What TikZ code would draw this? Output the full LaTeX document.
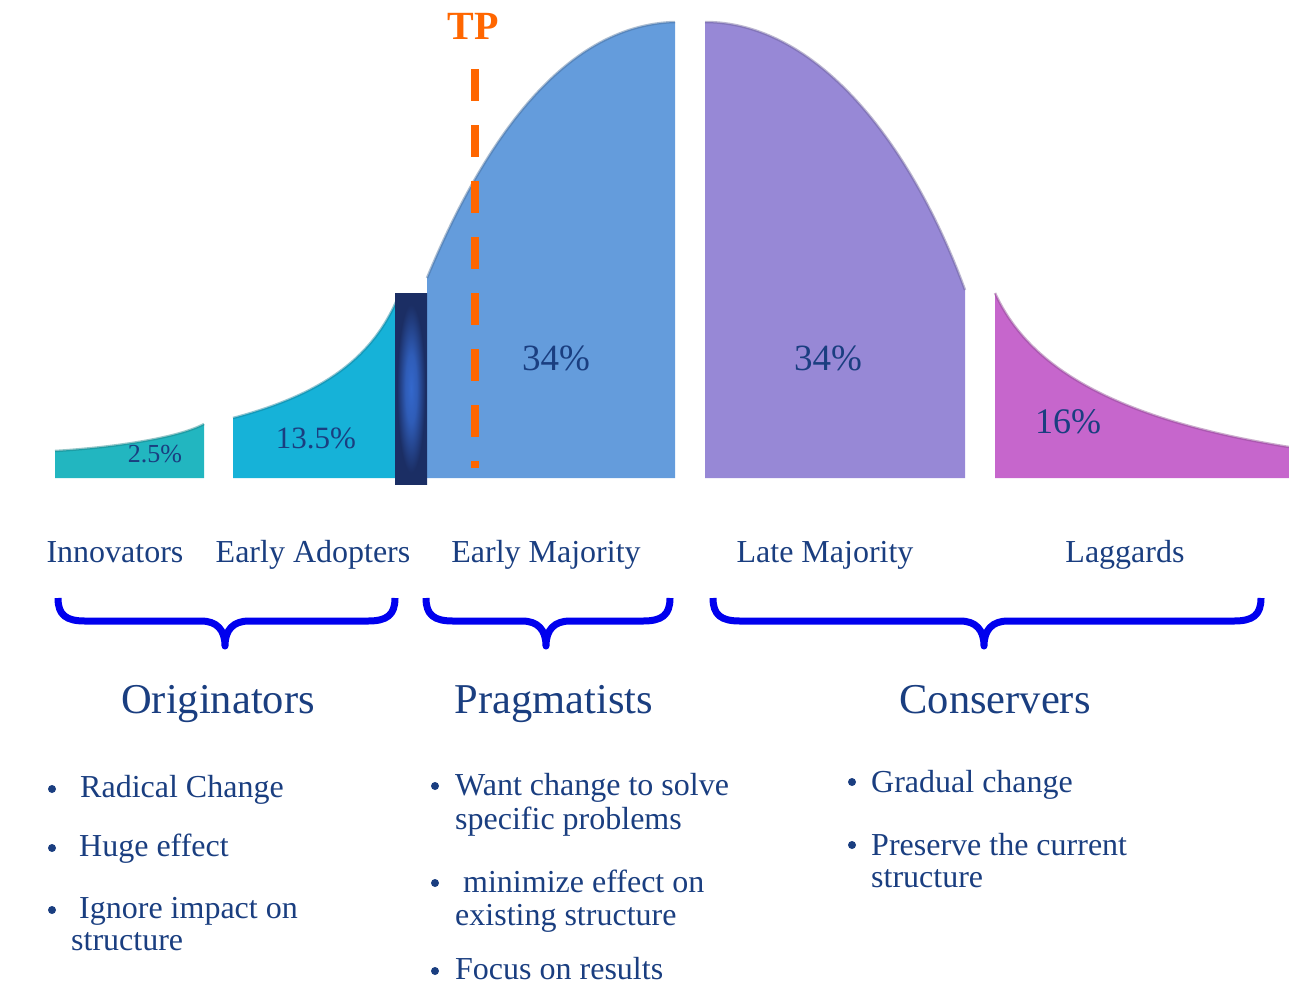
\documentclass[tikz,border=0pt]{standalone}
\usepackage{fontspec}
\setmainfont{Liberation Serif}
\usepackage{tikz}
\definecolor{innocol}{RGB}{34,182,192}
\definecolor{adoptcol}{RGB}{22,178,216}
\definecolor{earlycol}{RGB}{100,156,220}
\definecolor{latecol}{RGB}{151,136,214}
\definecolor{lagcol}{RGB}{198,102,204}
\definecolor{bardark}{RGB}{27,46,100}
\definecolor{barlight}{RGB}{52,104,204}
\definecolor{navy}{RGB}{26,62,128}
\definecolor{tporange}{RGB}{255,102,0}
\definecolor{bracecol}{RGB}{0,0,238}
\pgfdeclareradialshading{barglow}{\pgfpoint{0bp}{0bp}}{color(0bp)=(barlight); color(9bp)=(barlight!80!bardark); color(22bp)=(bardark); color(50bp)=(bardark)}

\begin{document}
\begin{tikzpicture}[x=1pt,y=-1pt]
\tikzstyle{every node}+=[inner sep=0pt, text=navy]
\tikzstyle{rim}=[line width=2.5pt, opacity=0.45]
\tikzstyle{curly}=[bracecol, line width=7pt, line join=round]
\tikzstyle{stagename}=[anchor=base, font=\fontsize{32}{34}\selectfont]
\tikzstyle{groupname}=[anchor=base, font=\fontsize{42.5}{44}\selectfont]
\tikzstyle{bulletline}=[anchor=base west, font=\fontsize{32}{34}\selectfont]
\useasboundingbox (0,0) rectangle (1289,986);

% bell curve pieces
\fill [innocol] (55,478) -- (55,451) .. controls (120,447) and (180,437) .. (204,424) -- (204,478) -- cycle;
\draw [innocol!70!black, rim] (55,451) .. controls (120,447) and (180,437) .. (204,424);
\fill [adoptcol] (233,478) -- (233,418) .. controls (320,395) and (370,360) .. (396,302) -- (396,478) -- cycle;
\draw [adoptcol!70!black, rim] (233,418) .. controls (320,395) and (370,360) .. (396,302);
\fill [earlycol] (427,478) -- (427,278) .. controls (480,150) and (560,25) .. (675,22) -- (675,478) -- cycle;
\draw [earlycol!70!black, rim] (427,278) .. controls (480,150) and (560,25) .. (675,22);
\fill [latecol] (705,478) -- (705,22) .. controls (815,22) and (910,140) .. (965,290) -- (965,478) -- cycle;
\draw [latecol!70!black, rim] (705,22) .. controls (815,22) and (910,140) .. (965,290);
\fill [lagcol] (995,478) -- (995,293) .. controls (1030,370) and (1120,420) .. (1289,447) -- (1289,478) -- cycle;
\draw [lagcol!70!black, rim] (995,293) .. controls (1030,370) and (1120,420) .. (1289,447);

% chasm bar
\shade [shading=barglow] (395,293) rectangle (427,484);

% tipping point
\coordinate (tptop) at (475,69);
\coordinate (tpbot) at (475,468);
\draw [tporange, line width=8pt, dash pattern=on 32pt off 24pt] (tptop) -- (tpbot);
\node [anchor=base, text=tporange, font=\fontsize{40}{42}\selectfont\bfseries] (tp) at (473,39) {TP};

% shares
\node [anchor=base, font=\fontsize{26}{28}\selectfont] (p1) at (155,462) {2.5\%};
\node [anchor=base, font=\fontsize{31}{33}\selectfont] (p2) at (316,448) {13.5\%};
\node [anchor=base, font=\fontsize{37}{39}\selectfont] (p3) at (556,370) {34\%};
\node [anchor=base, font=\fontsize{37}{39}\selectfont] (p4) at (828,370) {34\%};
\node [anchor=base, font=\fontsize{36}{38}\selectfont] (p5) at (1068,433) {16\%};

% adopter categories
\node [stagename] (innov) at (115,562) {Innovators};
\node [stagename] (adopt) at (313,562) {Early Adopters};
\node [stagename] (earlymaj) at (546,562) {Early Majority};
\node [stagename] (latemaj) at (825,562) {Late Majority};
\node [stagename] (lagg) at (1125,562) {Laggards};

% braces
\draw [curly] (58,598) .. controls (58,615) and (66,621) .. (85,621) -- (201,621)
  .. controls (217,621) and (225,630) .. (225,646)
  .. controls (225,630) and (233,621) .. (249,621) -- (368,621)
  .. controls (387,621) and (395,615) .. (395,598);
\draw [curly] (426,598) .. controls (426,615) and (434,621) .. (453,621) -- (522,621)
  .. controls (538,621) and (546,630) .. (546,646)
  .. controls (546,630) and (554,621) .. (570,621) -- (643,621)
  .. controls (662,621) and (670,615) .. (670,598);
\draw [curly] (713,598) .. controls (713,615) and (721,621) .. (740,621) -- (960,621)
  .. controls (976,621) and (984,630) .. (984,646)
  .. controls (984,630) and (992,621) .. (1008,621) -- (1234,621)
  .. controls (1253,621) and (1261,615) .. (1261,598);

% groups
\node [groupname] (orig) at (218,713) {Originators};
\node [groupname] (prag) at (554,713) {Pragmatists};
\node [groupname] (cons) at (995,713) {Conservers};

% originators
\fill [navy] (52,789) circle (4);
\fill [navy] (52,848) circle (4);
\fill [navy] (52,910) circle (4);
\node [bulletline] (o1) at (80,797) {Radical Change};
\node [bulletline] (o2) at (79,856) {Huge effect};
\node [bulletline] (o3) at (79,918) {Ignore impact on};
\node [bulletline] (o3b) at (71,950) {structure};

% pragmatists
\fill [navy] (435,786) circle (4);
\fill [navy] (435,883) circle (4);
\fill [navy] (435,971) circle (4);
\node [bulletline] (g1) at (455,795) {Want change to solve};
\node [bulletline] (g1b) at (455,829) {specific problems};
\node [bulletline] (g2) at (463,892) {minimize effect on};
\node [bulletline] (g2b) at (455,925) {existing structure};
\node [bulletline] (g3) at (455,979) {Focus on results};

% conservers
\fill [navy] (852,782) circle (4);
\fill [navy] (852,845) circle (4);
\node [bulletline] (c1) at (871,792) {Gradual change};
\node [bulletline] (c2) at (871,855) {Preserve the current};
\node [bulletline] (c2b) at (871,887) {structure};
\end{tikzpicture}
\end{document}
